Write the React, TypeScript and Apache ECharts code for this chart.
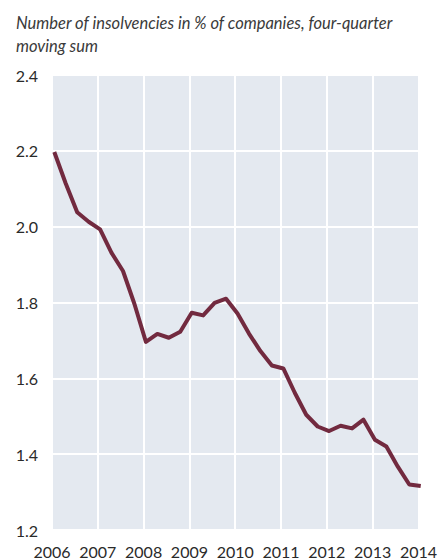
import React, { useEffect, useRef } from "react";
import * as echarts from "echarts";

const titleText = "Number of insolvencies in % of companies, four-quarter\nmoving sum";

const quarters = [
  "2006Q1", "2006Q2", "2006Q3", "2006Q4",
  "2007Q1", "2007Q2", "2007Q3", "2007Q4",
  "2008Q1", "2008Q2", "2008Q3", "2008Q4",
  "2009Q1", "2009Q2", "2009Q3", "2009Q4",
  "2010Q1", "2010Q2", "2010Q3", "2010Q4",
  "2011Q1", "2011Q2", "2011Q3", "2011Q4",
  "2012Q1", "2012Q2", "2012Q3", "2012Q4",
  "2013Q1", "2013Q2", "2013Q3", "2013Q4",
  "2014Q1",
];

const insolvencies = [
  2.197, 2.114, 2.038, 2.013,
  1.993, 1.931, 1.883, 1.796,
  1.696, 1.717, 1.707, 1.723,
  1.773, 1.766, 1.799, 1.810,
  1.771, 1.718, 1.672, 1.634,
  1.626, 1.562, 1.504, 1.473,
  1.461, 1.475, 1.468, 1.491,
  1.438, 1.420, 1.367, 1.320,
  1.316,
];

const yTicks = [1.2, 1.4, 1.6, 1.8, 2.0, 2.2, 2.4];
const xYears = [2006, 2007, 2008, 2009, 2010, 2011, 2012, 2013, 2014];

function quarterToYear(q: string): number {
  const y = parseInt(q.slice(0, 4), 10);
  const n = parseInt(q.slice(5), 10);
  return y + (n - 1) / 4 + 0.05;
}

export default function App() {
  const ref = useRef<HTMLDivElement>(null);
  useEffect(() => {
    if (!ref.current) return;
    const chart = echarts.init(ref.current, undefined, { renderer: "svg" });
    const font = "Lato, 'Open Sans', sans-serif";
    chart.setOption({
      animation: false,
      backgroundColor: "#ffffff",
      title: {
        text: titleText,
        left: 3,
        top: -2,
        textStyle: {
          fontFamily: font,
          fontStyle: "italic",
          fontWeight: "normal",
          fontSize: 16.5,
          lineHeight: 23,
          color: "#3a3a3a",
        },
      },
      grid: {
        left: 44,
        right: 17,
        top: 67,
        bottom: 23,
        show: true,
        backgroundColor: "#e4e9f0",
        borderWidth: 0,
      },
      xAxis: {
        type: "value",
        min: xYears[0],
        max: 2014.06,
        interval: 1,
        axisLine: { show: false },
        axisTick: { show: false },
        splitLine: { show: true, lineStyle: { color: "#ffffff", width: 2 } },
        axisLabel: {
          fontFamily: font,
          fontSize: 16,
          color: "#2a2a2a",
          margin: 13,
          showMaxLabel: true,
          formatter: (v: number) => (xYears.includes(Math.round(v * 1000) / 1000) ? String(v) : ""),
        },
      },
      yAxis: {
        type: "value",
        min: yTicks[0],
        max: yTicks[yTicks.length - 1],
        interval: 0.2,
        axisLine: { show: false },
        axisTick: { show: false },
        splitLine: { show: true, lineStyle: { color: "#ffffff", width: 2 } },
        axisLabel: {
          fontFamily: font,
          fontSize: 16,
          color: "#2a2a2a",
          margin: 14,
          formatter: (v: number) => v.toFixed(1),
        },
      },
      series: [
        {
          type: "line",
          data: quarters.map((q, i) => [quarterToYear(q), insolvencies[i]]),
          showSymbol: false,
          lineStyle: { color: "#722a3f", width: 4, join: "round" },
          clip: false,
        },
      ],
    });
    return () => chart.dispose();
  }, []);
  return <div ref={ref} style={{ width: 432, height: 551 }} />;
}
